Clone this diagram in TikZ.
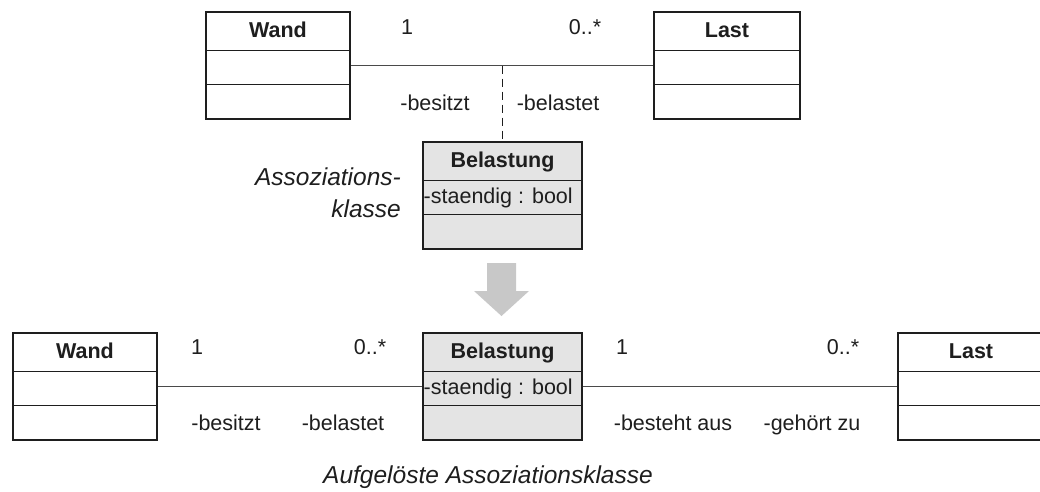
\documentclass[tikz,border=0pt]{standalone}
\usepackage{fontspec}
\setmainfont{Liberation Sans}
\usetikzlibrary{calc}
\definecolor{ink}{HTML}{1E1E1E}
\definecolor{boxgray}{HTML}{E4E4E4}
\definecolor{arrowgray}{HTML}{C8C8C8}
\definecolor{assoc}{HTML}{4A4A4A}
\tikzset{
  clsbox/.style={draw=ink, line width=2pt, inner sep=0pt, anchor=north west, minimum height=107pt},
  clsdiv/.style={draw=ink, line width=1.8pt},
  hdr/.style={font=\fontsize{21.5}{25}\selectfont\bfseries, text=ink, inner sep=0pt, anchor=base},
  attrtxt/.style={font=\fontsize{21.5}{25}\selectfont, text=ink, inner sep=0pt, anchor=base west},
  lbl/.style={font=\fontsize{21.5}{25}\selectfont, text=ink, inner sep=0pt, anchor=base},
  captxt/.style={font=\fontsize{24.5}{28}\selectfont\itshape, text=ink, inner sep=0pt},
  assocline/.style={draw=assoc, line width=1.3pt},
  dashline/.style={draw=ink, line width=1.3pt, dash pattern=on 8pt off 5pt},
  bigarrow/.style={fill=arrowgray, draw=none}
}
% name, left, top, width, title, fill
\newcommand{\umlclassbox}[6]{%
  \node[clsbox, fill=#6, minimum width=#4pt] (#1) at (#2,#3) {};
  \draw[clsdiv] ($(#1.north west)+(0,39.5)$) -- ($(#1.north east)+(0,39.5)$);
  \draw[clsdiv] ($(#1.north west)+(0,73.5)$) -- ($(#1.north east)+(0,73.5)$);
  \node[hdr] (#1-t) at ($(#1.north)+(0,26.5)$) {#5};
}
\begin{document}
\begin{tikzpicture}[x=1pt, y=-1pt]
\useasboundingbox (0,0) rectangle (1040,491);

% ---------- top: association class ----------
\umlclassbox{wandA}{205}{11}{144}{Wand}{white}
\umlclassbox{lastA}{653}{11}{146}{Last}{white}
\umlclassbox{belA}{422}{141}{159}{Belastung}{boxgray}
\node[attrtxt] (belA-a) at ($(belA.north west)+(1.5,62)$) {-staendig : bool};

\draw[assocline] (wandA) -- (lastA);
\coordinate (mA) at (belA.north |- wandA.east);
\draw[dashline] (mA) -- (belA.north);

\node[lbl] (mA1) at (407,34) {1};
\node[lbl] (mA2) at (585,34) {0..*};
\node[lbl] (rA1) at (435,110) {-besitzt};
\node[lbl] (rA2) at (558,110) {-belastet};

\node[captxt, anchor=base east] (capA1) at (401,185) {Assoziations-};
\node[captxt, anchor=base east] (capA2) at (401,217) {klasse};

% ---------- arrow ----------
\fill[bigarrow] (487,263) -- (516,263) -- (516,291) -- (529,291) -- (501.5,316) -- (474,291) -- (487,291) -- cycle;

% ---------- bottom: resolved association class ----------
\umlclassbox{wandB}{12}{332}{144}{Wand}{white}
\umlclassbox{belB}{422}{332}{159}{Belastung}{boxgray}
\node[attrtxt] (belB-a) at ($(belB.north west)+(1.5,62)$) {-staendig : bool};
\umlclassbox{lastB}{897}{332}{146}{Last}{white}

\draw[assocline] (wandB) -- (belB);
\draw[assocline] (belB) -- (lastB);

\node[lbl] (mB1) at (197,354) {1};
\node[lbl] (mB2) at (370,354) {0..*};
\node[lbl] (rB1) at (226,430) {-besitzt};
\node[lbl] (rB2) at (343,430) {-belastet};
\node[lbl] (mB3) at (622,354) {1};
\node[lbl] (mB4) at (843,354) {0..*};
\node[lbl] (rB3) at (673,430) {-besteht aus};
\node[lbl] (rB4) at (812,430) {-gehört zu};

\node[captxt, anchor=base] (capB) at (488,483) {Aufgelöste Assoziationsklasse};
\end{tikzpicture}
\end{document}
